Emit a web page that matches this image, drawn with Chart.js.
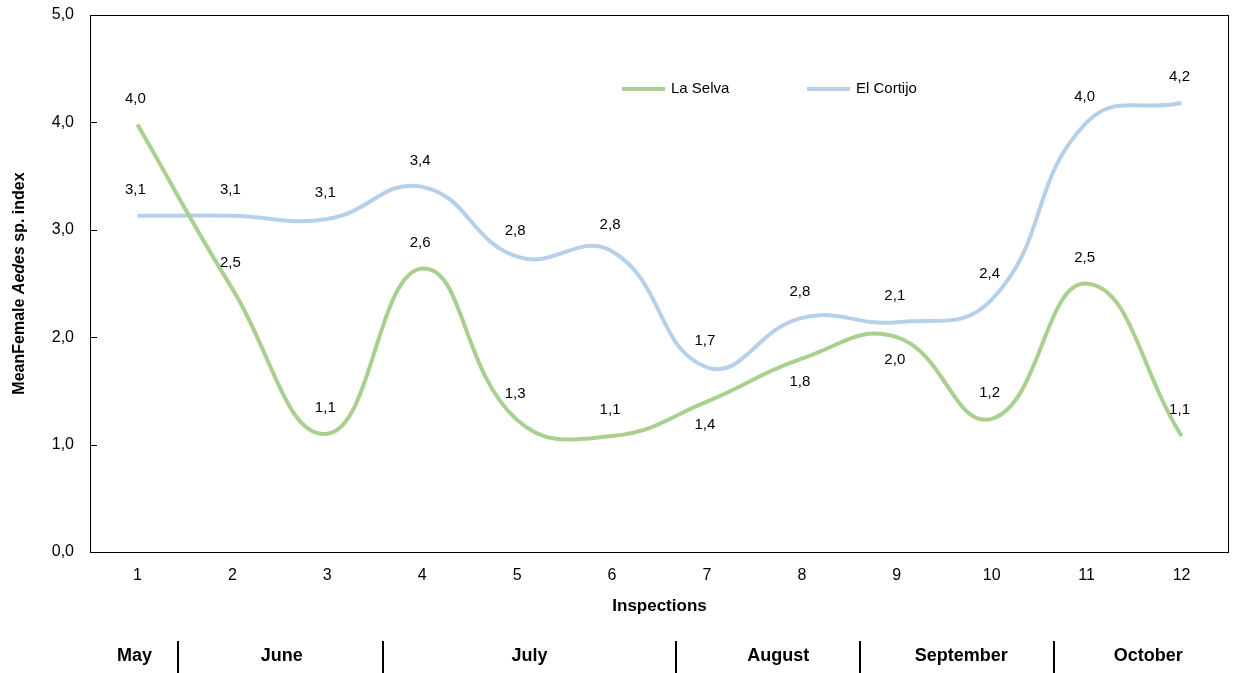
<!DOCTYPE html>
<html>
<head>
<meta charset="utf-8">
<script src="https://cdn.jsdelivr.net/npm/chart.js@4/dist/chart.umd.min.js"></script>
<style>
  html, body { margin: 0; padding: 0; background: #fff; }
  #wrap { width: 1233px; height: 673px; position: relative; }
</style>
</head>
<body>
<div id="wrap"><canvas id="chart"></canvas></div>
<script>
const inspections = ["1", "2", "3", "4", "5", "6", "7", "8", "9", "10", "11", "12"];
const laSelva = [3.98, 2.45, 1.1, 2.64, 1.23, 1.08, 1.4, 1.8, 2.0, 1.24, 2.5, 1.08];
const elCortijo = [3.13, 3.13, 3.1, 3.4, 2.75, 2.8, 1.72, 2.18, 2.14, 2.35, 4.0, 4.18];
// labels as printed on the original figure
const laSelvaLabels = ["4,0", "2,5", "1,1", "2,6", "1,3", "1,1", "1,4", "1,8", "2,0", "1,2", "2,5", "1,1"];
const elCortijoLabels = ["3,1", "3,1", "3,1", "3,4", "2,8", "2,8", "1,7", "2,8", "2,1", "2,4", "4,0", "4,2"];
const yTicks = [0, 1, 2, 3, 4, 5];
const months = ["May", "June", "July", "August", "September", "October"];
// month centres and separators, in inspection-index units (0 = inspection 1)
const monthCenters = [-0.03, 1.52, 4.13, 6.75, 8.68, 10.65];
const monthBreaks = [0.43, 2.59, 5.67, 7.61, 9.66];

const FONT = "'Liberation Sans', Arial, sans-serif";
const green = "#a9d08e";
const blue = "#b7d0ea";

const ctx = document.getElementById("chart").getContext("2d");

// index -> pixel on the category axis (fractional allowed)
const xAt = (scale, v) => {
  const p0 = scale.getPixelForTick(0);
  const p1 = scale.getPixelForTick(1);
  return p0 + (p1 - p0) * v;
};

const extras = {
  id: "extras",
  afterDatasetsDraw(chart) {
    const { ctx, chartArea: a, scales } = chart;
    const x = scales.x;
    const y = scales.y;
    ctx.save();

    // frame
    ctx.strokeStyle = "#000";
    ctx.lineWidth = 1;
    ctx.strokeRect(Math.round(a.left) + 0.5, Math.round(a.top) + 0.5,
      Math.round(a.right - a.left) - 1, Math.round(a.bottom - a.top));

    // inward y ticks
    yTicks.forEach(v => {
      const py = Math.round(y.getPixelForValue(v)) + 0.5;
      ctx.beginPath();
      ctx.moveTo(a.left, py);
      ctx.lineTo(a.left + 7, py);
      ctx.stroke();
    });

    // data labels
    ctx.fillStyle = "#000";
    ctx.font = "15px " + FONT;
    ctx.textAlign = "center";
    ctx.textBaseline = "middle";
    const below = { 0: [6, 7, 8] };
    chart.data.datasets.forEach((ds, di) => {
      const meta = chart.getDatasetMeta(di);
      meta.data.forEach((pt, i) => {
        const under = (below[di] || []).includes(i);
        ctx.fillText(ds.pointLabels[i], pt.x - 2, pt.y + (under ? 23 : -26));
      });
    });

    // legend
    const legendItems = [["La Selva", green, 622], ["El Cortijo", blue, 807]];
    ctx.textAlign = "left";
    legendItems.forEach(([name, col, lx]) => {
      ctx.strokeStyle = col;
      ctx.lineWidth = 4;
      ctx.beginPath();
      ctx.moveTo(lx, 89);
      ctx.lineTo(lx + 43, 89);
      ctx.stroke();
      ctx.fillStyle = "#000";
      ctx.fillText(name, lx + 49, 89);
    });

    // x axis title
    ctx.font = "bold 17px " + FONT;
    ctx.textAlign = "center";
    ctx.fillText("Inspections", (a.left + a.right) / 2, 606);

    // month row
    ctx.font = "bold 18px " + FONT;
    months.forEach((m, i) => ctx.fillText(m, xAt(x, monthCenters[i]), 656));
    ctx.strokeStyle = "#000";
    ctx.lineWidth = 2;
    monthBreaks.forEach(b => {
      const px = Math.round(xAt(x, b));
      ctx.beginPath();
      ctx.moveTo(px, 641);
      ctx.lineTo(px, 673);
      ctx.stroke();
    });

    // y axis title with italic genus
    const parts = [["bold 16px ", "MeanFemale "], ["italic bold 16px ", "Aedes"], ["bold 16px ", " sp. index"]];
    let total = 0;
    parts.forEach(([f, t]) => { ctx.font = f + FONT; total += ctx.measureText(t).width; });
    ctx.translate(20, (a.top + a.bottom) / 2);
    ctx.rotate(-Math.PI / 2);
    ctx.textAlign = "left";
    let cx = -total / 2;
    parts.forEach(([f, t]) => {
      ctx.font = f + FONT;
      ctx.fillText(t, cx, 0);
      cx += ctx.measureText(t).width;
    });
    ctx.restore();
  }
};

new Chart(ctx, {
  type: "line",
  data: {
    labels: inspections,
    datasets: [
      {
        label: "La Selva",
        data: laSelva,
        pointLabels: laSelvaLabels,
        borderColor: green,
        borderWidth: 4,
        pointRadius: 0,
        tension: 0.45,
        fill: false
      },
      {
        label: "El Cortijo",
        data: elCortijo,
        pointLabels: elCortijoLabels,
        borderColor: blue,
        borderWidth: 4,
        pointRadius: 0,
        tension: 0.45,
        fill: false
      }
    ]
  },
  options: {
    responsive: true,
    maintainAspectRatio: false,
    animation: false,
    layout: { padding: { left: 0, right: 4, top: 15, bottom: 0 } },
    plugins: {
      legend: { display: false },
      tooltip: { enabled: false }
    },
    scales: {
      x: {
        offset: true,
        grid: { display: false, drawTicks: false },
        border: { display: false },
        ticks: { color: "#000", font: { family: FONT, size: 16 }, padding: 14, maxRotation: 0 },
        afterFit: s => { s.height = 121; s.paddingLeft = 0; s.paddingRight = 0; }
      },
      y: {
        min: 0,
        max: 5,
        afterBuildTicks: s => { s.ticks = yTicks.map(v => ({ value: v })); },
        grid: { display: false, drawTicks: false },
        border: { display: false },
        ticks: {
          color: "#000",
          font: { family: FONT, size: 16 },
          padding: 16,
          callback: v => v.toFixed(1).replace(".", ",")
        },
        afterFit: s => { s.width = 90; s.paddingTop = 0; s.paddingBottom = 0; }
      }
    }
  },
  plugins: [extras]
});
</script>
</body>
</html>
